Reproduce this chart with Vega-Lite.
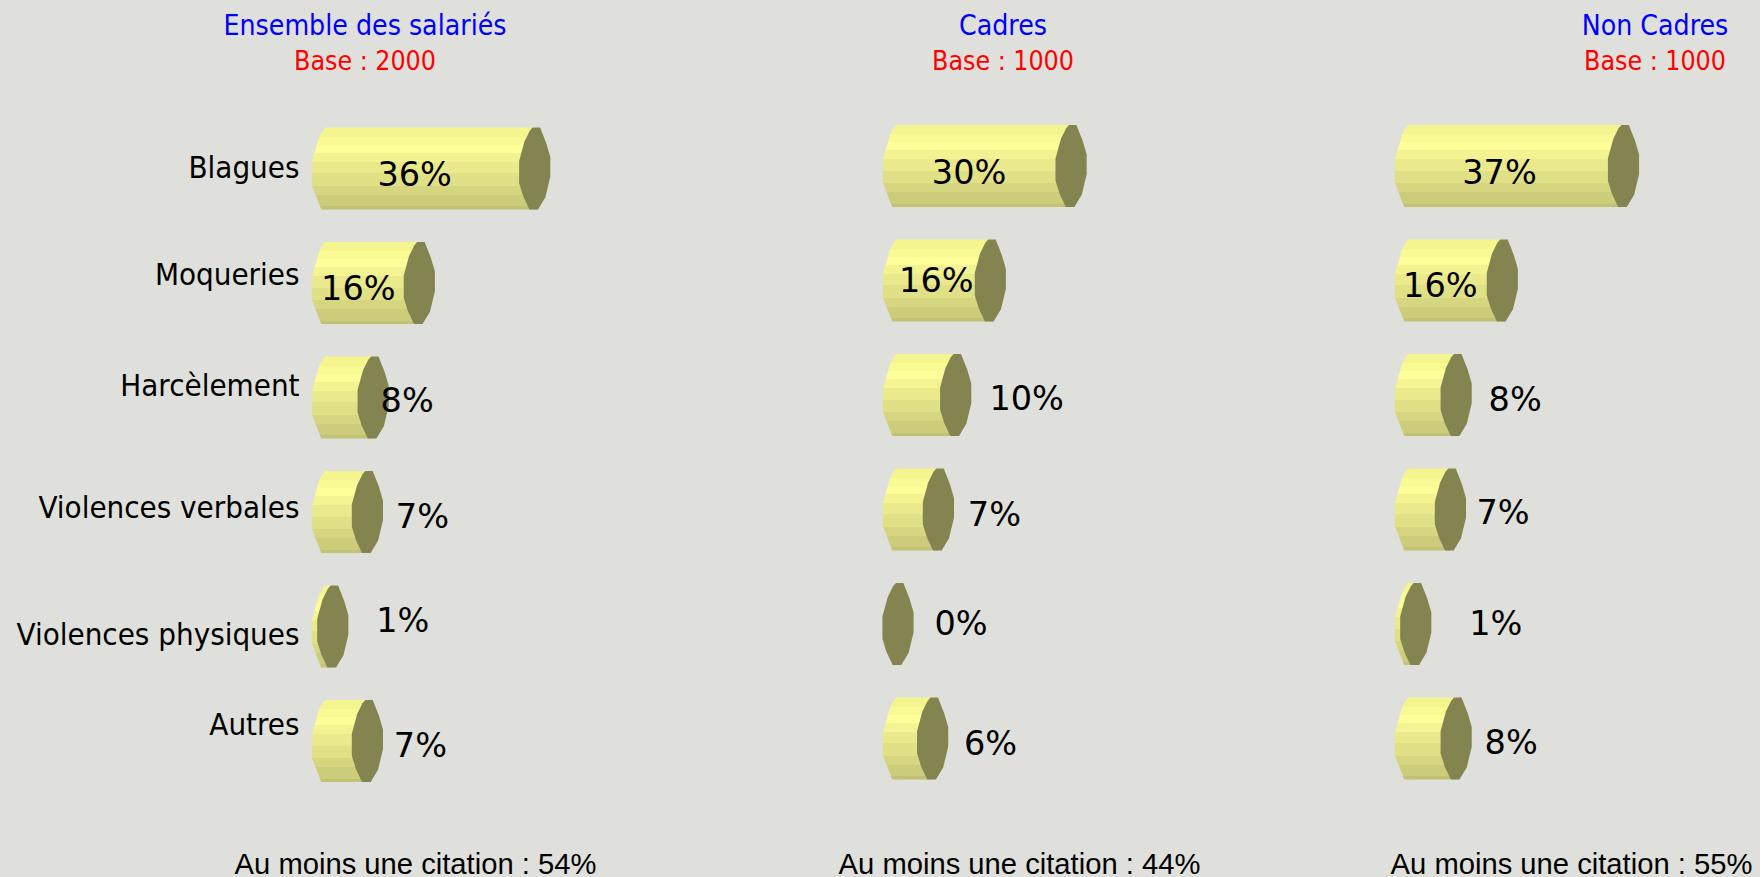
{"$schema":"https://vega.github.io/schema/vega-lite/v6.json","background":"#DFE0DB","padding":0,"spacing":0,"autosize":{"type":"pad"},
"config":{"view":{"stroke":null},"concat":{"spacing":0},"text":{"font":"DejaVu Sans","fontSize":33.5,"color":"#000000"},"title":{"font":"DejaVu Sans Condensed","fontSize":28.2,"fontWeight":"normal","color":"#0000FF","subtitleFont":"DejaVu Sans Condensed","subtitleFontSize":26.5,"subtitleColor":"#FF0000","subtitlePadding":7,"frame":"group","anchor":"middle"},"axisX":{"domain":false,"ticks":false,"labels":false,"grid":false,"titleFont":"Liberation Sans","titleFontSize":29.2,"titleFontWeight":"normal","titleColor":"#000000","titleBaseline":"middle","titleY":-13,"titleAnchor":"middle"}},
"datasets":{"all":[{"cat":"Blagues","v":0.36},{"cat":"Moqueries","v":0.16},{"cat":"Harcèlement","v":0.08},{"cat":"Violences verbales","v":0.07},{"cat":"Violences physiques","v":0.01},{"cat":"Autres","v":0.07}],
"cadres":[{"cat":"Blagues","v":0.30},{"cat":"Moqueries","v":0.16},{"cat":"Harcèlement","v":0.10},{"cat":"Violences verbales","v":0.07},{"cat":"Violences physiques","v":0},{"cat":"Autres","v":0.06}],
"noncadres":[{"cat":"Blagues","v":0.37},{"cat":"Moqueries","v":0.16},{"cat":"Harcèlement","v":0.08},{"cat":"Violences verbales","v":0.07},{"cat":"Violences physiques","v":0.01},{"cat":"Autres","v":0.08}]},
"hconcat":[
{"width":660,"height":877,"data":{"name":"all"},
"title":{"text":"Ensemble des salariés","subtitle":"Base : 2000","offset":-76,"dx":35},
"encoding":{"x":{"field":"v","type":"quantitative","scale":{"domain":[0,1],"range":[327,904]},"axis":{"title":"Au moins une citation : 54%","titleX":415}},
"y":{"field":"cat","type":"nominal","sort":null,"scale":{"type":"band","range":[127.5,782],"paddingInner":0.284,"paddingOuter":0},"axis":{"title":null,"domain":false,"ticks":false,"offset":-299,"labelPadding":0,"labelLimit":400,"labelFont":"DejaVu Sans Condensed","labelFontSize":31,"labelColor":"#000000","labelOffset":{"expr":"datum.label=='Blagues'?1:datum.label=='Moqueries'?-7:datum.label=='Harcèlement'?-10:datum.label=='Violences verbales'?-3:datum.label=='Violences physiques'?9:-15"}}},
"text":{"field":"v","type":"quantitative","format":".0%"}},
"layer":[
{"mark":{"type":"bar","fill":{"gradient":"linear","x1":0,"y1":0,"x2":0,"y2":1,"stops":[{"offset":0,"color":"#F5F58F"},{"offset":0.11,"color":"#F5F58F"},{"offset":0.11,"color":"#FAFA95"},{"offset":0.21,"color":"#FAFA95"},{"offset":0.21,"color":"#FFFF99"},{"offset":0.31,"color":"#FFFF99"},{"offset":0.31,"color":"#F3F391"},{"offset":0.42,"color":"#F3F391"},{"offset":0.42,"color":"#EAEA8C"},{"offset":0.56,"color":"#EAEA8C"},{"offset":0.56,"color":"#E0E086"},{"offset":0.71,"color":"#E0E086"},{"offset":0.71,"color":"#D6D680"},{"offset":0.82,"color":"#D6D680"},{"offset":0.82,"color":"#CCCC7A"},{"offset":0.96,"color":"#CCCC7A"},{"offset":0.96,"color":"#C2C274"},{"offset":1,"color":"#C2C274"}]}}},
{"encoding":{"x":{"datum":0}},"mark":{"type":"point","filled":true,"opacity":1,"size":6724,"shape":"M-.18,-.8L-.37,-.15L-.37,.41L-.14,1L.02,1L.02,-1L-.05,-1Z","fill":{"gradient":"linear","x1":0,"y1":0,"x2":0,"y2":1,"stops":[{"offset":0,"color":"#F5F58F"},{"offset":0.11,"color":"#F5F58F"},{"offset":0.11,"color":"#FAFA95"},{"offset":0.21,"color":"#FAFA95"},{"offset":0.21,"color":"#FFFF99"},{"offset":0.31,"color":"#FFFF99"},{"offset":0.31,"color":"#F3F391"},{"offset":0.42,"color":"#F3F391"},{"offset":0.42,"color":"#EAEA8C"},{"offset":0.56,"color":"#EAEA8C"},{"offset":0.56,"color":"#E0E086"},{"offset":0.71,"color":"#E0E086"},{"offset":0.71,"color":"#D6D680"},{"offset":0.82,"color":"#D6D680"},{"offset":0.82,"color":"#CCCC7A"},{"offset":0.96,"color":"#CCCC7A"},{"offset":0.96,"color":"#C2C274"},{"offset":1,"color":"#C2C274"}]}}},
{"mark":{"type":"point","filled":true,"opacity":1,"size":6724,"fill":"#848450","shape":"M-.05,-1L.13,-1L.28,-.62L.38,-.28L.38,.2L.26,.7L.08,1L-.13,1L-.28,.68L-.38,.36L-.38,-.18L-.25,-.66L-.12,-.92Z"}},
{"transform":[{"filter":"datum.cat=='Blagues'"}],"mark":{"type":"text","dx":-120,"dy":7.5}},
{"transform":[{"filter":"datum.cat=='Moqueries'"}],"mark":{"type":"text","dx":-61,"dy":7.5}},
{"transform":[{"filter":"datum.cat=='Harcèlement'"}],"mark":{"type":"text","dx":34,"dy":5}},
{"transform":[{"filter":"datum.cat=='Violences verbales'"}],"mark":{"type":"text","dx":55,"dy":6}},
{"transform":[{"filter":"datum.cat=='Violences physiques'"}],"mark":{"type":"text","dx":70,"dy":-4.5}},
{"transform":[{"filter":"datum.cat=='Autres'"}],"mark":{"type":"text","dx":53,"dy":6}}
]},
{"width":540,"height":877,"data":{"name":"cadres"},
"title":{"text":"Cadres","subtitle":"Base : 1000","offset":-76,"dx":73},
"encoding":{"x":{"field":"v","type":"quantitative","scale":{"domain":[0,1],"range":[238,815]},"axis":{"title":"Au moins une citation : 44%","titleX":359}},
"y":{"field":"cat","type":"nominal","sort":null,"scale":{"type":"band","range":[125,779.5],"paddingInner":0.284,"paddingOuter":0},"axis":null},
"text":{"field":"v","type":"quantitative","format":".0%"}},
"layer":[
{"mark":{"type":"bar","fill":{"gradient":"linear","x1":0,"y1":0,"x2":0,"y2":1,"stops":[{"offset":0,"color":"#F5F58F"},{"offset":0.11,"color":"#F5F58F"},{"offset":0.11,"color":"#FAFA95"},{"offset":0.21,"color":"#FAFA95"},{"offset":0.21,"color":"#FFFF99"},{"offset":0.31,"color":"#FFFF99"},{"offset":0.31,"color":"#F3F391"},{"offset":0.42,"color":"#F3F391"},{"offset":0.42,"color":"#EAEA8C"},{"offset":0.56,"color":"#EAEA8C"},{"offset":0.56,"color":"#E0E086"},{"offset":0.71,"color":"#E0E086"},{"offset":0.71,"color":"#D6D680"},{"offset":0.82,"color":"#D6D680"},{"offset":0.82,"color":"#CCCC7A"},{"offset":0.96,"color":"#CCCC7A"},{"offset":0.96,"color":"#C2C274"},{"offset":1,"color":"#C2C274"}]}}},
{"encoding":{"x":{"datum":0}},"transform":[{"filter":"datum.v>0"}],"mark":{"type":"point","filled":true,"opacity":1,"size":6724,"shape":"M-.18,-.8L-.37,-.15L-.37,.41L-.14,1L.02,1L.02,-1L-.05,-1Z","fill":{"gradient":"linear","x1":0,"y1":0,"x2":0,"y2":1,"stops":[{"offset":0,"color":"#F5F58F"},{"offset":0.11,"color":"#F5F58F"},{"offset":0.11,"color":"#FAFA95"},{"offset":0.21,"color":"#FAFA95"},{"offset":0.21,"color":"#FFFF99"},{"offset":0.31,"color":"#FFFF99"},{"offset":0.31,"color":"#F3F391"},{"offset":0.42,"color":"#F3F391"},{"offset":0.42,"color":"#EAEA8C"},{"offset":0.56,"color":"#EAEA8C"},{"offset":0.56,"color":"#E0E086"},{"offset":0.71,"color":"#E0E086"},{"offset":0.71,"color":"#D6D680"},{"offset":0.82,"color":"#D6D680"},{"offset":0.82,"color":"#CCCC7A"},{"offset":0.96,"color":"#CCCC7A"},{"offset":0.96,"color":"#C2C274"},{"offset":1,"color":"#C2C274"}]}}},
{"mark":{"type":"point","filled":true,"opacity":1,"size":6724,"fill":"#848450","shape":"M-.05,-1L.13,-1L.28,-.62L.38,-.28L.38,.2L.26,.7L.08,1L-.13,1L-.28,.68L-.38,.36L-.38,-.18L-.25,-.66L-.12,-.92Z"}},
{"transform":[{"filter":"datum.cat=='Blagues'"}],"mark":{"type":"text","dx":-102,"dy":8}},
{"transform":[{"filter":"datum.cat=='Moqueries'"}],"mark":{"type":"text","dx":-54,"dy":2}},
{"transform":[{"filter":"datum.cat=='Harcèlement'"}],"mark":{"type":"text","dx":71,"dy":5.5}},
{"transform":[{"filter":"datum.cat=='Violences verbales'"}],"mark":{"type":"text","dx":56,"dy":6.5}},
{"transform":[{"filter":"datum.cat=='Violences physiques'"}],"mark":{"type":"text","dx":63,"dy":1}},
{"transform":[{"filter":"datum.cat=='Autres'"}],"mark":{"type":"text","dx":58,"dy":6.5}}
]},
{"width":522,"height":877,"data":{"name":"noncadres"},
"title":{"text":"Non Cadres","subtitle":"Base : 1000","offset":-76,"dx":157},
"encoding":{"x":{"field":"v","type":"quantitative","scale":{"domain":[0,1],"range":[173,750]},"axis":{"title":"Au moins une citation : 55%","titleX":334}},
"y":{"field":"cat","type":"nominal","sort":null,"scale":{"type":"band","range":[125,779.5],"paddingInner":0.284,"paddingOuter":0},"axis":null},
"text":{"field":"v","type":"quantitative","format":".0%"}},
"layer":[
{"mark":{"type":"bar","fill":{"gradient":"linear","x1":0,"y1":0,"x2":0,"y2":1,"stops":[{"offset":0,"color":"#F5F58F"},{"offset":0.11,"color":"#F5F58F"},{"offset":0.11,"color":"#FAFA95"},{"offset":0.21,"color":"#FAFA95"},{"offset":0.21,"color":"#FFFF99"},{"offset":0.31,"color":"#FFFF99"},{"offset":0.31,"color":"#F3F391"},{"offset":0.42,"color":"#F3F391"},{"offset":0.42,"color":"#EAEA8C"},{"offset":0.56,"color":"#EAEA8C"},{"offset":0.56,"color":"#E0E086"},{"offset":0.71,"color":"#E0E086"},{"offset":0.71,"color":"#D6D680"},{"offset":0.82,"color":"#D6D680"},{"offset":0.82,"color":"#CCCC7A"},{"offset":0.96,"color":"#CCCC7A"},{"offset":0.96,"color":"#C2C274"},{"offset":1,"color":"#C2C274"}]}}},
{"encoding":{"x":{"datum":0}},"mark":{"type":"point","filled":true,"opacity":1,"size":6724,"shape":"M-.18,-.8L-.37,-.15L-.37,.41L-.14,1L.02,1L.02,-1L-.05,-1Z","fill":{"gradient":"linear","x1":0,"y1":0,"x2":0,"y2":1,"stops":[{"offset":0,"color":"#F5F58F"},{"offset":0.11,"color":"#F5F58F"},{"offset":0.11,"color":"#FAFA95"},{"offset":0.21,"color":"#FAFA95"},{"offset":0.21,"color":"#FFFF99"},{"offset":0.31,"color":"#FFFF99"},{"offset":0.31,"color":"#F3F391"},{"offset":0.42,"color":"#F3F391"},{"offset":0.42,"color":"#EAEA8C"},{"offset":0.56,"color":"#EAEA8C"},{"offset":0.56,"color":"#E0E086"},{"offset":0.71,"color":"#E0E086"},{"offset":0.71,"color":"#D6D680"},{"offset":0.82,"color":"#D6D680"},{"offset":0.82,"color":"#CCCC7A"},{"offset":0.96,"color":"#CCCC7A"},{"offset":0.96,"color":"#C2C274"},{"offset":1,"color":"#C2C274"}]}}},
{"mark":{"type":"point","filled":true,"opacity":1,"size":6724,"fill":"#848450","shape":"M-.05,-1L.13,-1L.28,-.62L.38,-.28L.38,.2L.26,.7L.08,1L-.13,1L-.28,.68L-.38,.36L-.38,-.18L-.25,-.66L-.12,-.92Z"}},
{"transform":[{"filter":"datum.cat=='Blagues'"}],"mark":{"type":"text","dx":-124,"dy":8}},
{"transform":[{"filter":"datum.cat=='Moqueries'"}],"mark":{"type":"text","dx":-62,"dy":6.5}},
{"transform":[{"filter":"datum.cat=='Harcèlement'"}],"mark":{"type":"text","dx":59,"dy":5.6}},
{"transform":[{"filter":"datum.cat=='Violences verbales'"}],"mark":{"type":"text","dx":52.6,"dy":4.5}},
{"transform":[{"filter":"datum.cat=='Violences physiques'"}],"mark":{"type":"text","dx":80,"dy":1}},
{"transform":[{"filter":"datum.cat=='Autres'"}],"mark":{"type":"text","dx":55,"dy":5.5}}
]}
]}
